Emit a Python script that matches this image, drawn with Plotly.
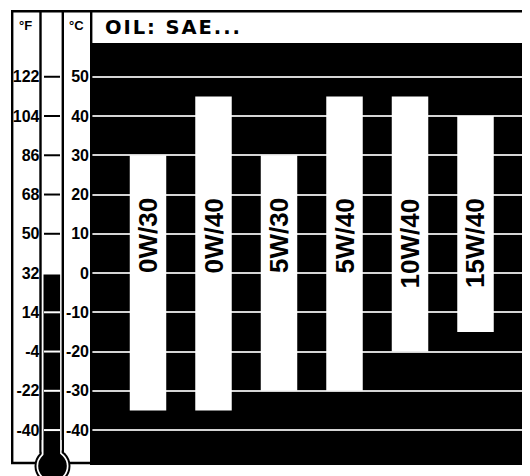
import plotly.graph_objects as go

# oil grades and their usable temperature window (deg C)
grades = ["0W/30", "0W/40", "5W/30", "5W/40", "10W/40", "15W/40"]
temp_low = [-35, -35, -30, -30, -20, -15]
temp_high = [30, 45, 30, 45, 45, 40]

# scale ticks
celsius_ticks = [50, 40, 30, 20, 10, 0, -10, -20, -30, -40]
fahrenheit_labels = ["122", "104", "86", "68", "50", "32", "14", "-4", "-22", "-40"]

# page has an 8px body margin, so the figure sits at (8, 8) in the window
OFF = 8
W, H = 530 - OFF, 476 - OFF


def px(x):
    return (x - OFF) / W


def py(y):
    return 1 - (y - OFF) / H


NARROW = "Liberation Sans Narrow, Arial Narrow, sans-serif"
WIDE = "Liberation Sans, Arial, sans-serif"
EXT = "DejaVu Sans, Verdana, sans-serif"

fig = go.Figure(go.Bar(
    x=grades,
    y=[h - l for h, l in zip(temp_high, temp_low)],
    base=temp_low,
    width=0.557,
    marker=dict(color="white", line=dict(width=0)),
    hoverinfo="skip",
))
# invisible helper so the fahrenheit axis gets drawn
fig.add_trace(go.Scatter(x=[grades[0]], y=[0], yaxis="y2", mode="markers",
                         marker=dict(opacity=0), hoverinfo="skip"))

# rotated grade labels inside the bars
for g in grades:
    fig.add_annotation(
        x=g, y=19.5, xref="x", yref="y", text=g, textangle=-90,
        yanchor="top", xanchor="center", showarrow=False,
        font=dict(family=WIDE, size=26, color="black", weight="bold"),
    )

shapes = []
line_black = dict(color="black", width=2.4)

# outer frame and column separators
shapes.append(dict(type="line", xref="paper", yref="paper", x0=px(11), x1=1, y0=py(11.2), y1=py(11.2), line=line_black))
shapes.append(dict(type="line", xref="paper", yref="paper", x0=px(12.2), x1=px(12.2), y0=py(10), y1=py(464), line=line_black))
shapes.append(dict(type="line", xref="paper", yref="paper", x0=px(11), x1=px(92), y0=py(463), y1=py(463), line=line_black))
shapes.append(dict(type="line", xref="paper", yref="paper", x0=px(91.2), x1=px(91.2), y0=py(10), y1=py(465), line=line_black))
for wx in (40.5, 62.8):
    shapes.append(dict(type="line", xref="paper", yref="paper", x0=px(wx), x1=px(wx), y0=py(10), y1=py(453), line=line_black))

# thermometer bulb
cx, cy = 52.5, 466
shapes.append(dict(type="circle", xref="paper", yref="paper", x0=px(cx - 18), x1=px(cx + 18),
                   y0=py(cy + 18), y1=py(cy - 18), fillcolor="black", line=dict(width=0)))
shapes.append(dict(type="rect", xref="paper", yref="paper", x0=px(41.7), x1=px(61.6),
                   y0=py(462), y1=py(440), fillcolor="white", line=dict(width=0)))
shapes.append(dict(type="circle", xref="paper", yref="paper", x0=px(cx - 16), x1=px(cx + 16),
                   y0=py(cy + 16), y1=py(cy - 16), fillcolor="white", line=dict(width=0)))
# mercury up to 0 deg C
shapes.append(dict(type="rect", xref="paper", yref="y", x0=px(43.5), x1=px(60.1),
                   y0=-50, y1=-0.4, fillcolor="black", line=dict(width=0)))
shapes.append(dict(type="circle", xref="paper", yref="paper", x0=px(cx - 14.3), x1=px(cx + 14.3),
                   y0=py(cy + 14.3), y1=py(cy - 14.3), fillcolor="black", line=dict(width=0)))

# thermometer tick marks
for v in celsius_ticks:
    if v == 0:
        continue
    shapes.append(dict(type="line", xref="paper", yref="y", x0=px(44), x1=px(60), y0=v, y1=v,
                       line=dict(color="black" if v > 0 else "white", width=2)))

fig.update_layout(shapes=shapes)

# column headers and title
for label, hx in (("°F", 25), ("°C", 76.5)):
    fig.add_annotation(x=px(hx), y=py(25.5), xref="paper", yref="paper", text=label,
                       xanchor="center", yanchor="middle", showarrow=False,
                       font=dict(family=NARROW, size=13, color="black", weight="bold"))
fig.add_annotation(x=px(102.5), y=py(28), xref="paper", yref="paper", xanchor="left", yanchor="middle",
                   text="\u200a".join("OIL: SAE..."), showarrow=False,
                   font=dict(family=EXT, size=19.5, color="black", weight="bold"))

yrange = [-48.9, 58.6]
tick_font = dict(family=NARROW, size=16, color="black", weight="bold")

fig.update_layout(
    width=W, height=H,
    margin=dict(l=0, r=0, t=0, b=0),
    paper_bgcolor="white",
    plot_bgcolor="black",
    showlegend=False,
    xaxis=dict(domain=[px(92), 1], range=[-0.855, 5.832], showticklabels=False,
               showgrid=False, zeroline=False, showline=False, fixedrange=True),
    yaxis=dict(domain=[py(465), py(43)], range=yrange, tickvals=celsius_ticks,
               ticktext=[str(v) for v in celsius_ticks], tickfont=tick_font,
               showgrid=True, gridcolor="#d4d4d4", gridwidth=2, zeroline=False,
               ticks="", ticklabelstandoff=2, showline=False),
    yaxis2=dict(overlaying="y", anchor="free", position=px(40.5), side="left",
                range=yrange, tickvals=celsius_ticks, ticktext=fahrenheit_labels,
                tickfont=tick_font, showgrid=False, zeroline=False, ticks="",
                ticklabelstandoff=1, showline=False),
)

fig.write_html("out.html")
